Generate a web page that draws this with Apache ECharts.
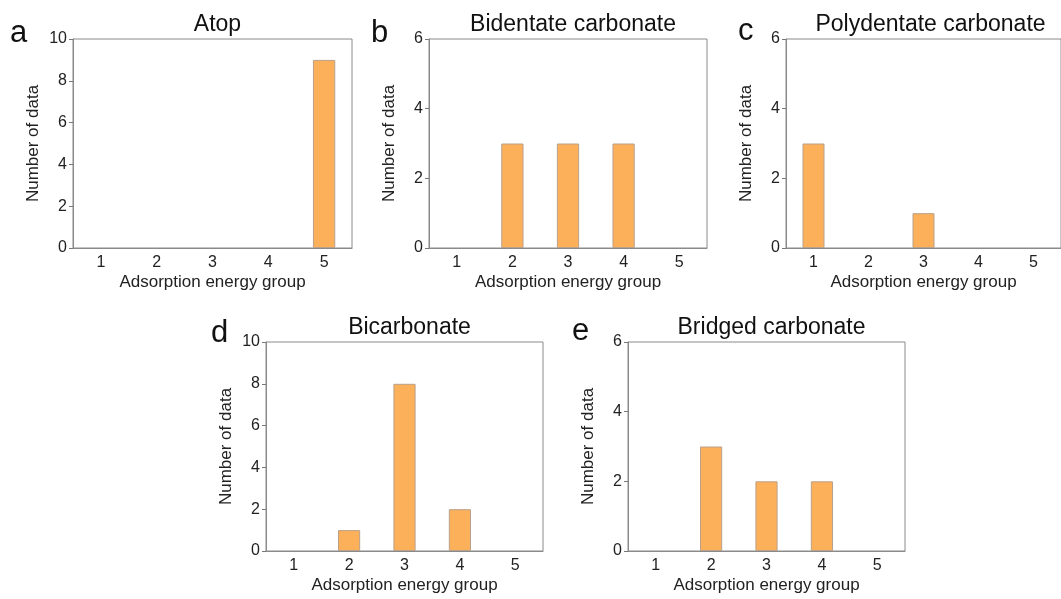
<!DOCTYPE html>
<html>
<head>
<meta charset="utf-8">
<script src="https://cdn.jsdelivr.net/npm/echarts@6/dist/echarts.min.js"></script>
<style>
  html, body { margin: 0; padding: 0; background: #fff; }
  #chart { width: 1061px; height: 599px; }
</style>
</head>
<body>
<div id="chart"></div>
<script>
// data
const groups = ['1', '2', '3', '4', '5'];
const atop = [0, 0, 0, 0, 9];
const bidentate = [0, 3, 3, 3, 0];
const polydentate = [3, 0, 1, 0, 0];
const bicarbonate = [0, 1, 8, 2, 0];
const bridged = [0, 3, 2, 2, 0];
const titles = ['Atop', 'Bidentate carbonate', 'Polydentate carbonate', 'Bicarbonate', 'Bridged carbonate'];
const letters = ['a', 'b', 'c', 'd', 'e'];
const yMax = [10, 6, 6, 10, 6];

const panels = [
  { data: atop, left: 73, top: 39, width: 279, height: 209, letter: [10, 35] },
  { data: bidentate, left: 429, top: 39, width: 278, height: 209, letter: [371, 35] },
  { data: polydentate, left: 786, top: 39, width: 279, height: 209, letter: [738, 33] },
  { data: bicarbonate, left: 266, top: 342, width: 277, height: 209, letter: [211, 335] },
  { data: bridged, left: 628, top: 342, width: 277, height: 209, letter: [572, 333] }
];

const axisColor = '#8a8a8a';
const textColor = '#222';
const font = 'Liberation Sans, Arial, sans-serif';

const chart = echarts.init(document.getElementById('chart'));

let grid = [], xAxis = [], yAxis = [], series = [], title = [], graphic = [];

panels.forEach((p, i) => {
  grid.push({
    left: p.left, top: p.top, width: p.width, height: p.height,
    show: true, borderColor: axisColor, borderWidth: 1, containLabel: false
  });
  // main x axis: labels + ticks at the group centres
  xAxis.push({
    type: 'category', gridIndex: i, data: groups, position: 'bottom',
    name: 'Adsorption energy group', nameLocation: 'middle', nameGap: 26,
    nameTextStyle: { fontSize: 17, color: textColor, fontFamily: font },
    axisLine: { lineStyle: { color: axisColor, width: 1 } },
    axisTick: { alignWithLabel: true, length: 4, lineStyle: { color: '#777' } },
    axisLabel: { fontSize: 16, color: textColor, fontFamily: font, margin: 7 },
    splitLine: { show: false }
  });
  // second x axis: short ticks between groups
  xAxis.push({
    type: 'category', gridIndex: i, data: groups, position: 'bottom',
    axisLine: { show: false },
    axisTick: { length: 3, lineStyle: { color: '#777' } },
    axisLabel: { show: false },
    splitLine: { show: false }
  });
  yAxis.push({
    type: 'value', gridIndex: i, min: 0, max: yMax[i], interval: 2,
    name: 'Number of data', nameLocation: 'middle', nameGap: 31,
    nameTextStyle: { fontSize: 17, color: textColor, fontFamily: font },
    axisLine: { show: true, lineStyle: { color: axisColor, width: 1 } },
    axisTick: { show: true, length: 4, lineStyle: { color: '#777' } },
    axisLabel: { fontSize: 16, color: textColor, fontFamily: font, margin: 6 },
    splitLine: { show: false }
  });
  series.push({
    type: 'bar', xAxisIndex: i * 2, yAxisIndex: i,
    // empty groups draw no bar
    data: p.data.map(v => (v === 0 ? '-' : v)),
    barWidth: '40%',
    itemStyle: { color: '#FDB05A', borderColor: '#B9A08A', borderWidth: 1 }
  });
  title.push({
    text: titles[i],
    left: p.left + p.width / 2, top: p.top - 31, textAlign: 'center',
    textStyle: { fontSize: 23, fontWeight: 'normal', color: '#111', fontFamily: font }
  });
  graphic.push({
    type: 'text', left: p.letter[0], top: p.letter[1] - 17,
    style: { text: letters[i], fontSize: 31, fill: '#111', fontFamily: font }
  });
});

chart.setOption({
  animation: false,
  title, grid, xAxis, yAxis, series, graphic
});
</script>
</body>
</html>
